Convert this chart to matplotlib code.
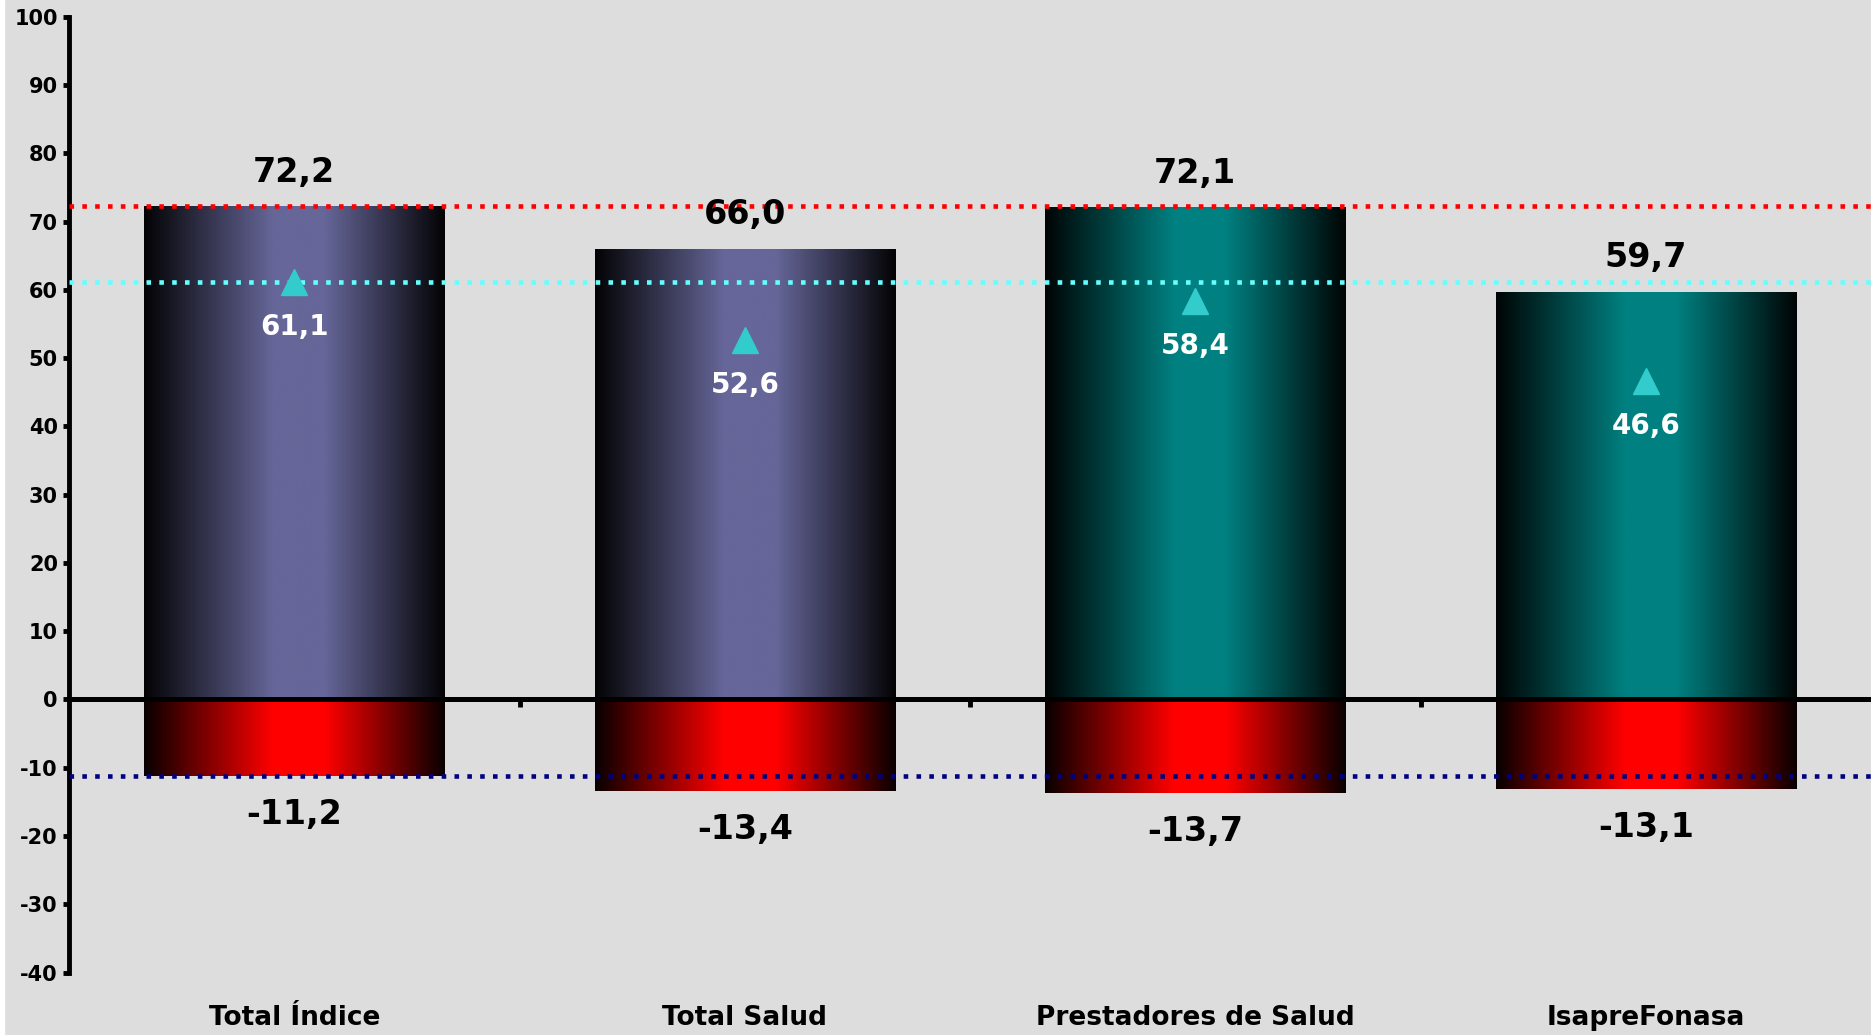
import numpy as np
import matplotlib.pyplot as plt
from matplotlib.colors import to_rgb
from matplotlib.patches import Rectangle
from matplotlib.transforms import blended_transform_factory

plt.rcParams["axes.unicode_minus"] = False

categories = ["Total Índice", "Total Salud", "Prestadores de Salud", "IsapreFonasa"]
positive = [72.2, 66.0, 72.1, 59.7]
negative = [-11.2, -13.4, -13.7, -13.1]
markers = [61.1, 52.6, 58.4, 46.6]
pos_colors = ["#666699", "#666699", "#008080", "#008080"]
neg_color = "#FF0000"
ref_lines = [(72.2, "#FF0000"), (61.1, "#66FFFF"), (-11.2, "#000080")]


def fmt(v):
    return f"{v:.1f}".replace(".", ",")


def gradient_fill(ax, patch, color):
    # dark edges, bright band slightly right of the middle
    t = np.linspace(0, 1, 512)
    k = np.interp(t, [0, 0.43, 0.6, 1], [0.03, 1.0, 1.0, 0.03])
    rgb = np.array(to_rgb(color))
    img = (k[:, None] * rgb[None, :])[None, :, :]
    x0, y0 = patch.get_x(), patch.get_y()
    w, h = patch.get_width(), patch.get_height()
    im = ax.imshow(img, extent=[x0, x0 + w, y0, y0 + h], aspect="auto",
                   interpolation="bilinear", zorder=2)
    im.set_clip_path(patch)


bg = "#DDDDDD"
fig = plt.figure(figsize=(18.71, 10.35), dpi=100, facecolor=bg)
fig.add_artist(Rectangle((0, 0), 4 / 1871, 1, transform=fig.transFigure,
                         color="white", zorder=0))
ax = fig.add_axes([0.0369, 0.0603, 0.9631, 0.9236])
ax.set_facecolor(bg)

x = np.arange(len(categories))
width = 0.667
pbars = ax.bar(x, positive, width, color="none", linewidth=0, zorder=2)
nbars = ax.bar(x, negative, width, color="none", linewidth=0, zorder=2)
for p, c in zip(pbars, pos_colors):
    gradient_fill(ax, p, c)
for p in nbars:
    gradient_fill(ax, p, neg_color)

for val, col in ref_lines:
    ax.axhline(val, color=col, lw=3.3, linestyle=(0, (1, 1.8)),
               dash_capstyle="butt", zorder=4)

ax.axhline(0, color="black", lw=3.6, zorder=5)
ax.plot(x, markers, linestyle="none", marker="^", markersize=19,
        color="#33CCCC", zorder=6)

for xi, v in zip(x, positive):
    ax.text(xi, v + 5, fmt(v), ha="center", va="center", fontsize=24,
            fontweight="bold", color="black", zorder=7)
for xi, v in zip(x, negative):
    ax.text(xi, v - 5.7, fmt(v), ha="center", va="center", fontsize=24,
            fontweight="bold", color="black", zorder=7)
for xi, v in zip(x, markers):
    ax.text(xi, v - 6.6, fmt(v), ha="center", va="center", fontsize=20,
            fontweight="bold", color="white", zorder=7)

ax.set_xlim(-0.5, len(categories) - 0.5)
ax.set_ylim(-40, 100)
ax.set_yticks(np.arange(-40, 101, 10))
ax.tick_params(axis="y", direction="out", length=4, width=3.5, pad=4,
               labelsize=15)
for lab in ax.get_yticklabels():
    lab.set_fontweight("bold")

# category ticks sit on the zero line
ax.spines["bottom"].set_position(("data", 0))
ax.spines["bottom"].set_visible(False)
ax.set_xticks(x[:-1] + 0.5)
ax.set_xticklabels([])
ax.tick_params(axis="x", direction="out", length=6, width=3.5)
for sp in ["top", "right"]:
    ax.spines[sp].set_visible(False)
ax.spines["left"].set_linewidth(3.5)

trans = blended_transform_factory(ax.transData, fig.transFigure)
for xi, name in zip(x, categories):
    ax.text(xi, 0.0164, name, transform=trans, ha="center", va="center",
            fontsize=19, fontweight="bold", color="black")

fig.savefig("out.png", dpi=100, facecolor=bg)
